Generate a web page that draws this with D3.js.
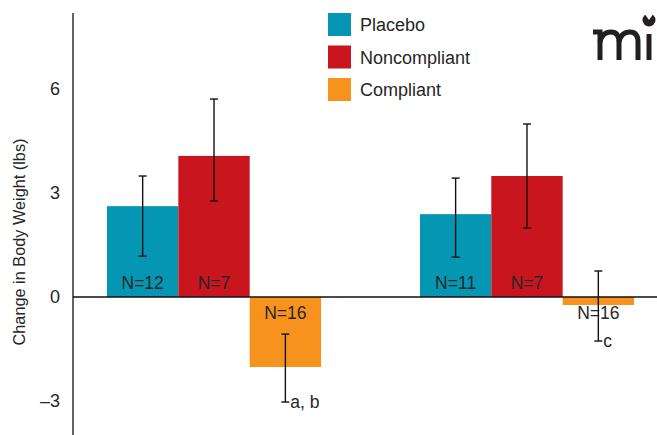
<!DOCTYPE html>
<html><head><meta charset="utf-8">
<script src="https://cdn.jsdelivr.net/npm/d3@7/dist/d3.min.js"></script>
<style>body{margin:0;background:#fff}svg{display:block}text{font-family:"Liberation Sans",Arial,sans-serif}</style>
</head><body><svg id="c" width="657" height="435"></svg>
<script>
const groups = ["Group 1", "Group 2"];
const series = ["Placebo", "Noncompliant", "Compliant"];
const colors = ["#0596b4", "#c9151e", "#f7921f"];
const values = [[2.62, 4.07, -2.02], [2.39, 3.49, -0.23]];
const errHigh = [[3.49, 5.71, -1.07], [3.43, 4.99, 0.75]];
const errLow = [[1.18, 2.77, -3.03], [1.15, 1.99, -1.27]];
const nLabels = [["N=12", "N=7", "N=16"], ["N=11", "N=7", "N=16"]];
const sigLabels = [["", "", "a, b"], ["", "", "c"]];
const yTicks = [-3, 0, 3, 6];
const yLabel = "Change in Body Weight (lbs)";

const svg = d3.select("#c");
const y = d3.scaleLinear().domain([-3, 6]).range([401, 89]);
const x0 = d3.scaleBand().domain(groups).range([73, 668]).paddingInner(0.316).paddingOuter(0.1086);
const x1 = d3.scaleBand().domain(series).range([0, x0.bandwidth()]);

// bars
const g = svg.append("g");
groups.forEach((grp, gi) => {
  series.forEach((s, si) => {
    const v = values[gi][si];
    const bx = x0(grp) + x1(s);
    g.append("rect").attr("x", bx).attr("width", x1.bandwidth())
      .attr("y", y(Math.max(0, v))).attr("height", Math.abs(y(v) - y(0)))
      .attr("fill", colors[si]);
  });
});

// zero line
svg.append("line").attr("x1", 73).attr("x2", 657).attr("y1", y(0)).attr("y2", y(0))
  .attr("stroke", "#111").attr("stroke-width", 1.3);

// N labels
groups.forEach((grp, gi) => {
  series.forEach((s, si) => {
    const v = values[gi][si];
    const cx = x0(grp) + x1(s) + x1.bandwidth() / 2;
    const ty = v >= 0 ? y(0) - 8 : y(0) + 22;
    svg.append("text").attr("x", cx).attr("y", ty).attr("text-anchor", "middle")
      .attr("font-size", 17.5).attr("fill", "#262626").text(nLabels[gi][si]);
  });
});

// error bars
groups.forEach((grp, gi) => {
  series.forEach((s, si) => {
    const cx = x0(grp) + x1(s) + x1.bandwidth() / 2;
    const hi = y(errHigh[gi][si]), lo = y(errLow[gi][si]);
    const eg = svg.append("g").attr("stroke", "#111").attr("stroke-width", 1.4);
    eg.append("line").attr("x1", cx).attr("x2", cx).attr("y1", hi).attr("y2", lo);
    eg.append("line").attr("x1", cx - 4).attr("x2", cx + 4).attr("y1", hi).attr("y2", hi);
    eg.append("line").attr("x1", cx - 4).attr("x2", cx + 4).attr("y1", lo).attr("y2", lo);
    if (sigLabels[gi][si]) {
      svg.append("text").attr("x", cx + 5).attr("y", lo + 6).attr("font-size", 17.5)
        .attr("fill", "#262626").text(sigLabels[gi][si]);
    }
  });
});

// y axis
svg.append("line").attr("x1", 73).attr("x2", 73).attr("y1", 13).attr("y2", 435)
  .attr("stroke", "#111").attr("stroke-width", 1.3);
const ya = d3.axisLeft(y).tickValues(yTicks).tickSize(0).tickPadding(13)
  .tickFormat(d => d < 0 ? "\u2013" + Math.abs(d) : String(d));
const yg = svg.append("g").attr("transform", "translate(73,0)").call(ya);
yg.select(".domain").remove();
yg.selectAll("text").attr("font-size", 18).attr("fill", "#262626")
  .attr("font-family", "'Liberation Sans', Arial, sans-serif");

svg.append("text").attr("transform", "translate(25,242) rotate(-90)")
  .attr("text-anchor", "middle").attr("font-size", 16.3).attr("fill", "#262626").text(yLabel);

// legend
series.forEach((s, i) => {
  const ly = 13 + i * 32.5;
  svg.append("rect").attr("x", 328).attr("y", ly).attr("width", 23).attr("height", 23).attr("fill", colors[i]);
  svg.append("text").attr("x", 360).attr("y", ly + 18).attr("font-size", 18).attr("fill", "#262626").text(s);
});

// logo
const logo = svg.append("g").attr("stroke", "#231f20").attr("fill", "none").attr("stroke-width", 5);
logo.append("path").attr("d", "M593,32 L600,32 L600,60");
logo.append("path").attr("d", "M600,42 Q602,32 611,32 Q619,32 619,42 L619,60");
logo.append("path").attr("d", "M619,42 Q621,32 630,32 Q638,32 638,42 L638,60");
logo.append("path").attr("d", "M649,34 L649,60");
svg.append("circle").attr("cx", 649).attr("cy", 20).attr("r", 6.5).attr("fill", "#231f20");
svg.append("path").attr("d", "M644,13 L649,20 L654,13 Z").attr("fill", "#fff");
</script></body></html>
